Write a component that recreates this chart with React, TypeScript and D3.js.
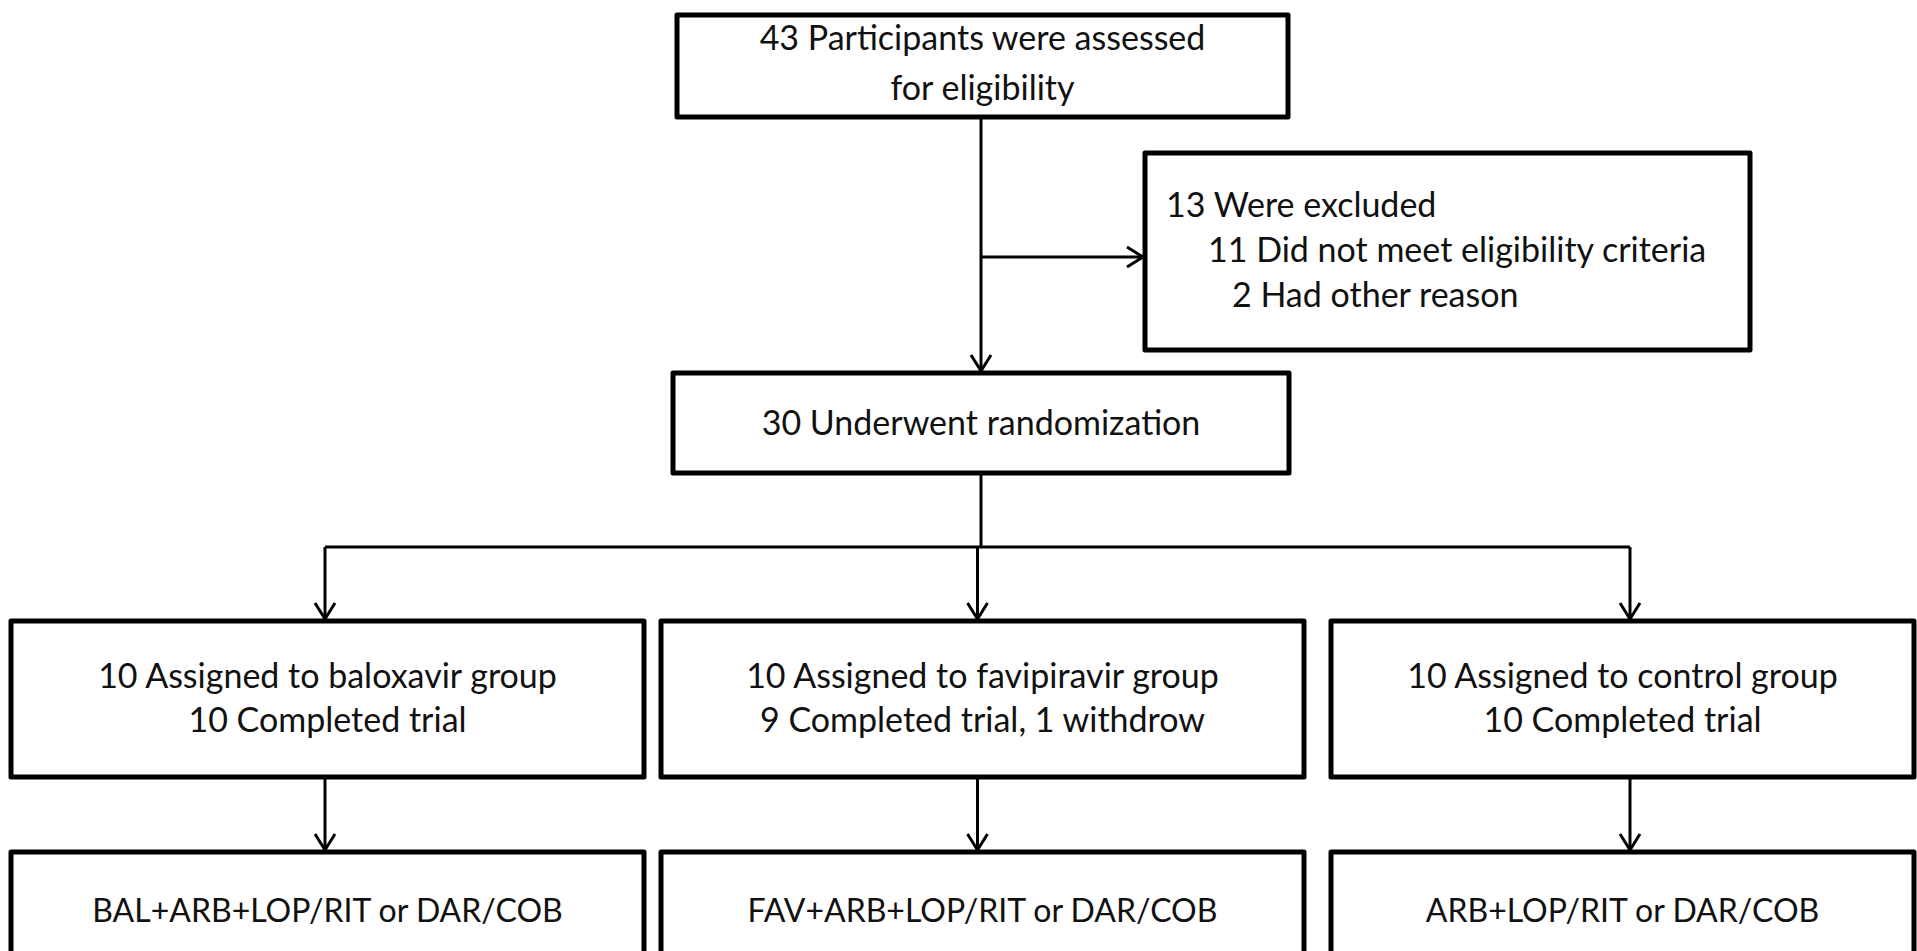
import * as d3 from 'd3';

// Flow diagram content
const screeningLines = ['43 Participants were assessed', 'for eligibility'];
const exclusionLines = ['13 Were excluded', '11 Did not meet eligibility criteria', '2 Had other reason'];
const exclusionDepth = [0, 1, 2];
const randomizationLine = '30 Underwent randomization';
const groups = ['baloxavir', 'favipiravir', 'control'];
const assigned = [10, 10, 10];
const completed = [10, 9, 10];
const withdrew = [0, 1, 0];
const regimens = ['BAL+ARB+LOP/RIT or DAR/COB', 'FAV+ARB+LOP/RIT or DAR/COB', 'ARB+LOP/RIT or DAR/COB'];

const W = 1917;
const H = 951;
const FONT = 'Lato, "Open Sans", sans-serif';
const FS = 34;
const FS_REGIMEN = 32;
const INK = '#111';

type Box = { x0: number; x1: number; y0: number; y1: number };

const spineX = 981;
const topBox: Box = { x0: 677, x1: 1288, y0: 15, y1: 117 };
const exclBox: Box = { x0: 1145, x1: 1750, y0: 153, y1: 350 };
const randBox: Box = { x0: 673, x1: 1289, y0: 373, y1: 473 };
const branchY = 547;
const exclArrowY = 257;
const groupRow = { y0: 621, y1: 777 };
const regimenRow = { y0: 852, y1: 1000 };
const columnEdges: [number, number][] = [
  [11, 644],
  [661, 1304],
  [1331, 1914],
];

const line = d3.line<[number, number]>();

function Rect({ b }: { b: Box }) {
  return (
    <rect
      x={b.x0}
      y={b.y0}
      width={b.x1 - b.x0}
      height={b.y1 - b.y0}
      fill="#fff"
      stroke="#000"
      strokeWidth={5}
      strokeLinejoin="round"
    />
  );
}

function ArrowDown({ x, y0, y1 }: { x: number; y0: number; y1: number }) {
  return (
    <g fill="none" stroke="#000" strokeWidth={3}>
      <path d={line([[x, y0], [x, y1]])!} />
      <path d={line([[x - 10, y1 - 16], [x, y1], [x + 10, y1 - 16]])!} />
    </g>
  );
}

function ArrowRight({ x0, x1, y }: { x0: number; x1: number; y: number }) {
  return (
    <g fill="none" stroke="#000" strokeWidth={3}>
      <path d={line([[x0, y], [x1, y]])!} />
      <path d={line([[x1 - 16, y - 10], [x1, y], [x1 - 16, y + 10]])!} />
    </g>
  );
}

export default function App() {
  const colX = d3.scalePoint<string>().domain(groups).range([325, 1630]);
  const indent = d3.scaleOrdinal<number, number>().domain([0, 1, 2]).range([1166, 1208, 1232]);

  const groupLines = groups.map((g, i) => [
    `${assigned[i]} Assigned to ${g} group`,
    `${completed[i]} Completed trial` + (withdrew[i] ? `, ${withdrew[i]} withdrow` : ''),
  ]);

  return (
    <svg
      width={W}
      height={H}
      style={{ position: 'fixed', left: 0, top: 0, background: '#fff' }}
      fontFamily={FONT}
      fontSize={FS}
      fill={INK}
    >
      {/* screening */}
      <Rect b={topBox} />
      {screeningLines.map((t, i) => (
        <text key={t} x={(topBox.x0 + topBox.x1) / 2} y={50 + i * 50} textAnchor="middle">
          {t}
        </text>
      ))}

      {/* spine + exclusion */}
      <ArrowDown x={spineX} y0={topBox.y1} y1={randBox.y0 - 2} />
      <ArrowRight x0={spineX} x1={exclBox.x0 - 2} y={exclArrowY} />
      <Rect b={exclBox} />
      {exclusionLines.map((t, i) => (
        <text key={t} x={indent(exclusionDepth[i])} y={217 + i * 45}>
          {t}
        </text>
      ))}

      {/* randomization */}
      <Rect b={randBox} />
      <text x={(randBox.x0 + randBox.x1) / 2} y={435} textAnchor="middle">
        {randomizationLine}
      </text>

      {/* branch */}
      <path d={line([[spineX, randBox.y1], [spineX, branchY]])!} stroke="#000" strokeWidth={3} />
      <path
        d={line([[colX(groups[0])!, branchY], [colX(groups[groups.length - 1])!, branchY]])!}
        stroke="#000"
        strokeWidth={3}
        fill="none"
      />

      {groups.map((g, i) => {
        const [x0, x1] = columnEdges[i];
        const cx = (x0 + x1) / 2;
        const ax = colX(g)!;
        return (
          <g key={g}>
            <ArrowDown x={ax} y0={branchY} y1={groupRow.y0 - 2} />
            <Rect b={{ x0, x1, ...groupRow }} />
            {groupLines[i].map((t, j) => (
              <text key={t} x={cx} y={688 + j * 44} textAnchor="middle">
                {t}
              </text>
            ))}
            <ArrowDown x={ax} y0={groupRow.y1} y1={regimenRow.y0 - 2} />
            <Rect b={{ x0, x1, ...regimenRow }} />
            <text x={cx} y={922} textAnchor="middle" fontSize={FS_REGIMEN}>
              {regimens[i]}
            </text>
          </g>
        );
      })}
    </svg>
  );
}
